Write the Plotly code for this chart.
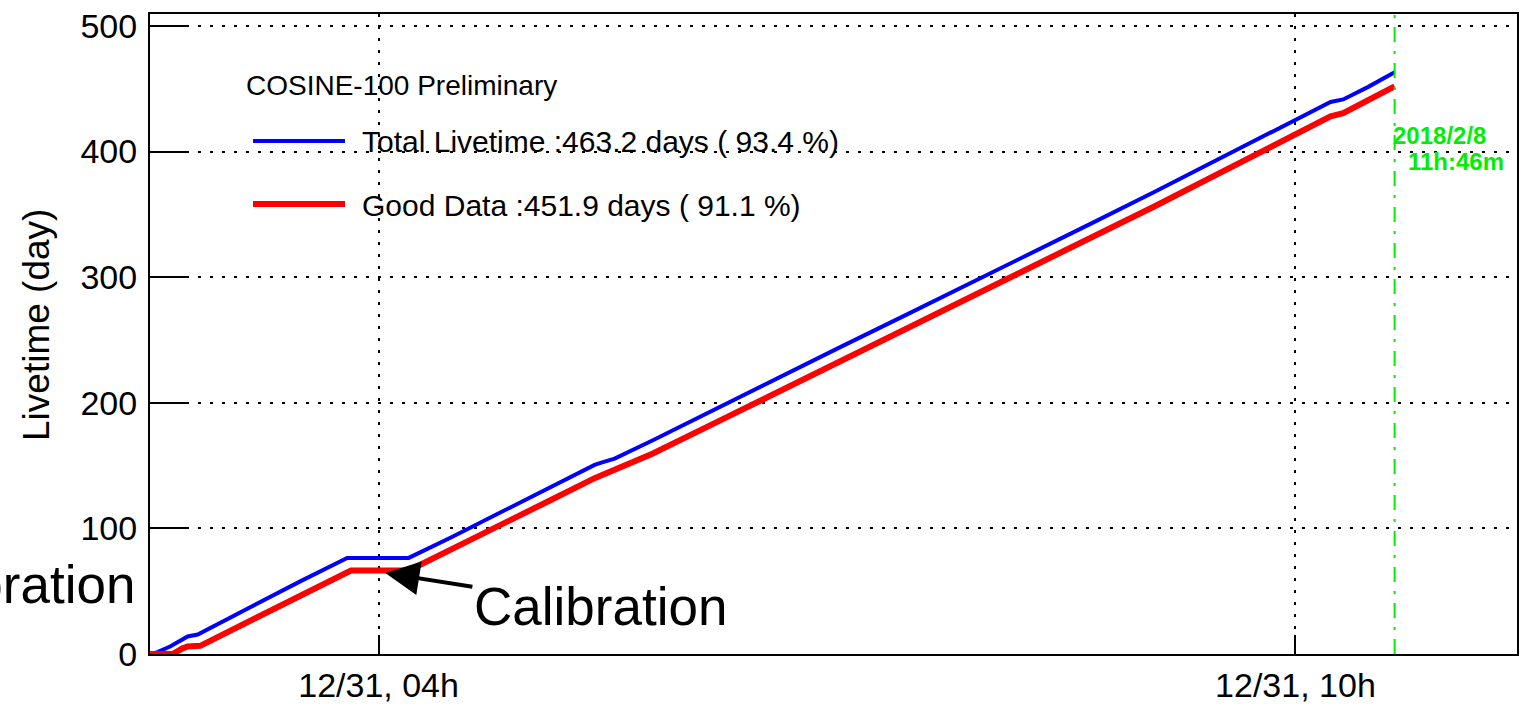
import pandas as pd
import plotly.graph_objects as go

# Run period
RUN_START = pd.Timestamp("2016-10-01 00:00")
RUN_END = pd.Timestamp("2018-02-08 11:46")
X_MAX = pd.Timestamp("2018-03-29 05:00")

# Accumulated total livetime (days since run start -> livetime in days)
total_days = [0, 3, 8, 14, 15, 19, 30, 45, 60, 78.5, 103, 120, 140, 160, 177,
              180, 185, 200, 225, 250, 275, 300, 325, 350, 375, 400, 425, 456,
              470, 475, 485, 495.49]
total_livetime = [0, 1.5, 6, 13, 14, 15.5, 27, 42, 58, 76.5, 76.5, 93, 113,
                  133.5, 150.5, 152.5, 155.5, 170, 195, 220, 244.5, 269, 293.5,
                  318, 343, 368, 393.5, 425, 439.5, 441.5, 451.5, 463.2]

# Accumulated good-data livetime
good_days = [0, 9, 13, 15, 20, 30, 45, 60, 80, 103, 120, 140, 160, 177, 180,
             184, 200, 225, 250, 275, 300, 325, 350, 375, 400, 425, 456, 470,
             475, 485, 495.49]
good_livetime = [0, 0, 4.5, 6, 6.5, 16.5, 31.5, 47, 66.5, 66.5, 83, 103, 123,
                 140, 142.5, 145.5, 159.5, 184, 208.5, 233, 257.5, 282, 306.5,
                 331.5, 356.5, 382, 413.5, 428, 430.5, 440.5, 451.9]

live_pct = [93.4, 91.1]

x_tick_dates = ["2016-12-31", "2017-12-31"]
x_tick_labels = ["12/31, 04h", "12/31, 10h"]
y_tick_vals = [0, 100, 200, 300, 400, 500]

# Calibration period marker
calib_day = 93.7
calib_level = 64.5

W, H = 1521, 705
ML, MR, MT, MB = 150, 4, 14, 51
PW, PH = W - ML - MR, H - MT - MB
FONT = "Liberation Sans, Arial, Helvetica, sans-serif"


def px(x):
    return (x - ML) / PW


def py(y):
    return (H - MB - y) / PH


def to_dates(days):
    return [RUN_START + pd.Timedelta(days=d) for d in days]


fig = go.Figure()
fig.add_trace(go.Scatter(x=to_dates(total_days), y=total_livetime, mode="lines",
                         line=dict(color="#0000ff", width=4), showlegend=False))
fig.add_trace(go.Scatter(x=to_dates(good_days), y=good_livetime, mode="lines",
                         line=dict(color="#ff0000", width=6), showlegend=False))

shapes = [
    # end-of-data marker
    dict(type="line", xref="x", yref="paper", x0=RUN_END, x1=RUN_END, y0=0, y1=1,
         line=dict(color="#00ee00", width=2, dash="15px,9px,3px,9px")),
    # legend samples
    dict(type="line", xref="paper", yref="paper", x0=px(253), x1=px(345),
         y0=py(141), y1=py(141), line=dict(color="#0000ff", width=4)),
    dict(type="line", xref="paper", yref="paper", x0=px(253), x1=px(345),
         y0=py(204), y1=py(204), line=dict(color="#ff0000", width=6)),
]

annotations = [
    dict(text="COSINE-100 Preliminary", xref="paper", yref="paper", x=px(244), y=py(85),
         xanchor="left", yanchor="middle", showarrow=False,
         font=dict(size=28, color="black", family=FONT)),
    dict(text=f"Total Livetime :{total_livetime[-1]:.1f} days ( {live_pct[0]:.1f} %)",
         xref="paper", yref="paper", x=px(360), y=py(141),
         xanchor="left", yanchor="middle", showarrow=False,
         font=dict(size=30, color="black", family=FONT)),
    dict(text=f"Good Data :{good_livetime[-1]:.1f} days ( {live_pct[1]:.1f} %)",
         xref="paper", yref="paper", x=px(360), y=py(205),
         xanchor="left", yanchor="middle", showarrow=False,
         font=dict(size=30, color="black", family=FONT)),
    dict(text=f"<b>{RUN_END.year}/{RUN_END.month}/{RUN_END.day}</b>",
         xref="paper", yref="paper", x=px(1391), y=py(135),
         xanchor="left", yanchor="middle", showarrow=False,
         font=dict(size=24, color="#00ee00", family=FONT)),
    dict(text=f"<b>{RUN_END.hour}h:{RUN_END.minute}m</b>",
         xref="paper", yref="paper", x=px(1406), y=py(162),
         xanchor="left", yanchor="middle", showarrow=False,
         font=dict(size=24, color="#00ee00", family=FONT)),
    # calibration arrow
    dict(text="Calibration", x=RUN_START + pd.Timedelta(days=calib_day), y=calib_level,
         xref="x", yref="y", ax=215, ay=34, showarrow=True,
         arrowhead=2, arrowsize=1.7, arrowwidth=4, arrowcolor="black",
         font=dict(size=53, color="black", family=FONT)),
    dict(text="Calibration", xref="paper", yref="paper", x=px(137), y=py(584),
         xanchor="right", yanchor="middle", showarrow=False,
         font=dict(size=53, color="black", family=FONT)),
    # y-axis title
    dict(text="Livetime (day)", xref="paper", yref="paper", x=px(36), y=py(325),
         xanchor="center", yanchor="middle", textangle=-90, showarrow=False,
         font=dict(size=37, color="black", family=FONT)),
]

fig.update_layout(
    width=W, height=H, autosize=False,
    margin=dict(l=ML, r=MR, t=MT, b=MB, pad=0, autoexpand=False),
    paper_bgcolor="white", plot_bgcolor="white",
    font=dict(family=FONT, color="black"),
    shapes=shapes, annotations=annotations,
    showlegend=False,
)

grid_dash = "3px,9px"
fig.update_xaxes(
    type="date", range=[RUN_START, X_MAX], automargin=False,
    tickmode="array", tickvals=x_tick_dates, ticktext=x_tick_labels,
    ticks="inside", ticklen=19, tickwidth=2, tickcolor="black",
    showline=True, linecolor="black", linewidth=2, mirror=True,
    showgrid=True, gridcolor="black", gridwidth=2, griddash=grid_dash,
    tickfont=dict(size=34, color="black", family=FONT),
    ticklabelstandoff=0, zeroline=False,
)
fig.update_yaxes(
    range=[0, 509.5], tickmode="array", tickvals=y_tick_vals, automargin=False,
    ticks="inside", ticklen=38, tickwidth=2, tickcolor="black",
    showline=True, linecolor="black", linewidth=2, mirror=True,
    showgrid=True, gridcolor="black", gridwidth=2, griddash=grid_dash,
    tickfont=dict(size=34, color="black", family=FONT),
    ticklabelstandoff=4, zeroline=False,
)

fig.write_html("out.html")
